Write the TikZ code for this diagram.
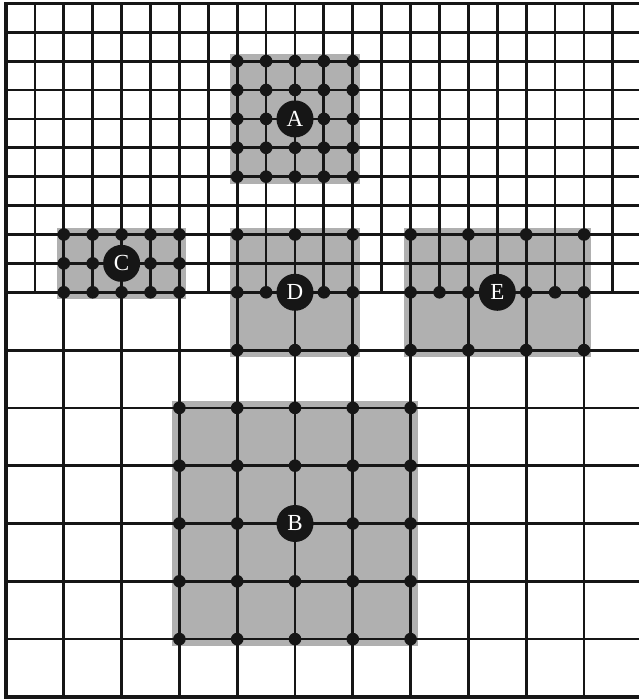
\documentclass[tikz,border=0pt]{standalone}
\usepackage{fontspec}
\setmainfont{Liberation Serif}
\definecolor{shade}{RGB}{176,176,176}
\definecolor{ink}{RGB}{22,22,22}
\tikzset{
 gridline/.style={draw=ink, line width=1.4pt},
 borderline/.style={draw=ink, line width=1.7pt},
 region/.style={fill=shade},
 dot/.style={circle, fill=ink, inner sep=0pt, minimum size=6.3pt},
 lbl/.style={circle, fill=ink, inner sep=0pt, minimum size=18.5pt, text=white, font=\fontsize{11.5}{13}\selectfont},
}
\begin{document}
\begin{tikzpicture}[x=14.45pt,y=-14.45pt]
\useasboundingbox (-0.2076,-0.1142) rectangle (21.903,24.073);
\clip (-0.2076,-0.1142) rectangle (21.903,24.073);
% shaded regions
\fill[region] (7.758,1.758) rectangle (12.242,6.242);   % A
\fill[region] (1.758,7.758) rectangle (6.242,10.242);   % C
\fill[region] (7.758,7.758) rectangle (12.242,12.242);  % D
\fill[region] (13.758,7.758) rectangle (20.242,12.242); % E
\fill[region] (5.758,13.758) rectangle (14.242,22.242); % B
% fine grid
\foreach \i in {1,...,21} \draw[gridline] (\i,0) -- (\i,10);
\foreach \k in {1,...,10} \draw[gridline] (0,\k) -- (22,\k);
% coarse grid
\foreach \k in {12,14,...,22} \draw[gridline] (0,\k) -- (22,\k);
\foreach \i in {2,4,...,20} \draw[gridline] (\i,10) -- (\i,24);
% border
\draw[borderline] (22,0) -- (0,0) -- (0,24) -- (22,24);
% dots A
\foreach \i in {8,...,12} \foreach \k in {2,...,6} \node[dot] (pa\i-\k) at (\i,\k) {};
% dots C
\foreach \i in {2,...,6} \foreach \k in {8,9,10} \node[dot] (pc\i-\k) at (\i,\k) {};
% dots D
\foreach \i/\k in {8/8,10/8,12/8,8/10,9/10,11/10,12/10,8/12,10/12,12/12} \node[dot] (pd\i-\k) at (\i,\k) {};
% dots E
\foreach \i/\k in {14/8,16/8,18/8,20/8,14/10,15/10,16/10,18/10,19/10,20/10,14/12,16/12,18/12,20/12} \node[dot] (pe\i-\k) at (\i,\k) {};
% dots B
\foreach \i in {6,8,...,14} \foreach \k in {14,16,...,22} \node[dot] (pb\i-\k) at (\i,\k) {};
% labels
\node[lbl] (A) at (10,4) {A};
\node[lbl] (B) at (10,18) {B};
\node[lbl] (C) at (4,9) {C};
\node[lbl] (D) at (10,10) {D};
\node[lbl] (E) at (17,10) {E};
\end{tikzpicture}
\end{document}
